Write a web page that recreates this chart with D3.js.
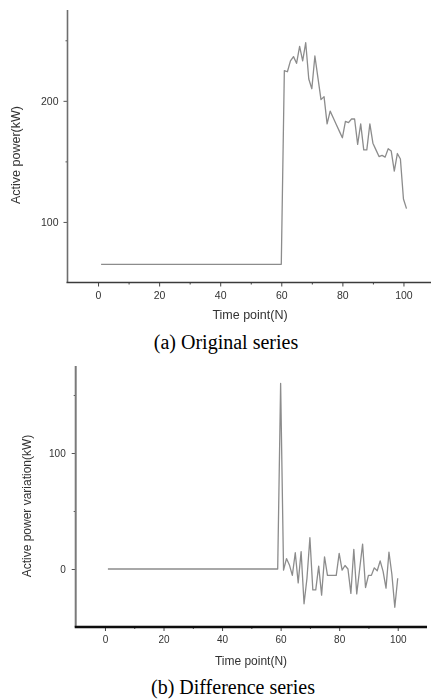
<!DOCTYPE html>
<html>
<head>
<meta charset="utf-8">
<script src="https://cdn.jsdelivr.net/npm/d3@7"></script>
<style>
  html, body { margin: 0; padding: 0; background: #fff; }
  svg { display: block; }
</style>
</head>
<body>
<svg id="fig" width="431" height="699"></svg>
<script>
// Active power of the original series, time points 1..101 (kW)
const originalPower = [
  65, 65, 65, 65, 65, 65, 65, 65, 65, 65,
  65, 65, 65, 65, 65, 65, 65, 65, 65, 65,
  65, 65, 65, 65, 65, 65, 65, 65, 65, 65,
  65, 65, 65, 65, 65, 65, 65, 65, 65, 65,
  65, 65, 65, 65, 65, 65, 65, 65, 65, 65,
  65, 65, 65, 65, 65, 65, 65, 65, 65, 65,
  225, 224, 233, 236.5, 231, 245, 233, 248, 218, 210,
  237, 219, 201, 203.5, 181, 191.5, 186, 180.5, 175, 169.5,
  183, 182, 185, 185, 164, 181, 159.5, 159.5, 181, 165,
  159.5, 154, 155, 153.5, 160.5, 158.5, 142, 156.5, 152, 119,
  111
];

// Active power variation (first difference), time points 1..100 (kW)
const powerVariation = [
  0, 0, 0, 0, 0, 0, 0, 0, 0, 0,
  0, 0, 0, 0, 0, 0, 0, 0, 0, 0,
  0, 0, 0, 0, 0, 0, 0, 0, 0, 0,
  0, 0, 0, 0, 0, 0, 0, 0, 0, 0,
  0, 0, 0, 0, 0, 0, 0, 0, 0, 0,
  0, 0, 0, 0, 0, 0, 0, 0, 0, 160,
  -1, 9, 3.5, -5.5, 14, -12, 15, -30, -8, 27,
  -18, -18, 2.5, -22.5, 10.5, -5.5, -5.5, -5.5, -5.5, 13.5,
  -1, 3, 0, -21, 17, -21.5, 0, 21.5, -16, -5.5,
  -5.5, 1, -1.5, 7, -2, -16.5, 14.5, -4.5, -33, -8
];

const xMajorTicks = [0, 20, 40, 60, 80, 100];
const xMinorTicks = [10, 30, 50, 70, 90];
const topYMajor = [100, 200];
const topYMinor = [150, 250];
const botYMajor = [0, 100];
const botYMinor = [50, 150];

const captions = ["(a) Original series", "(b) Difference series"];
const xTitle = "Time point(N)";
const yTitles = ["Active power(kW)", "Active power variation(kW)"];

const svg = d3.select("#fig");

const defs = svg.append("defs");
defs.append("filter").attr("id", "soft")
  .append("feGaussianBlur").attr("stdDeviation", 0.35);

function drawPanel(cfg) {
  const g = svg.append("g").attr("filter", "url(#soft)");
  const x = d3.scaleLinear().domain([-10, 110]).range(cfg.xRange);
  const y = d3.scaleLinear().domain(cfg.yDomain).range(cfg.yRange);
  const x0 = cfg.xRange[0];
  const yBottom = cfg.yRange[0];

  // data line
  const line = d3.line().x((d, i) => x(i + 1)).y(d => y(d));
  g.append("path")
    .datum(cfg.values)
    .attr("d", line)
    .attr("fill", "none")
    .attr("stroke", "#8c8c8c")
    .attr("stroke-width", 1.3)
    .attr("stroke-linejoin", "round");

  // x axis: major ticks with labels, minor ticks without
  const xAxis = g.append("g").attr("transform", `translate(0,${yBottom})`);
  xAxis.call(d3.axisBottom(x).tickValues(xMajorTicks).tickSize(4).tickPadding(5).tickFormat(d3.format("d")));
  xAxis.append("g").call(d3.axisBottom(x).tickValues(xMinorTicks).tickSize(2).tickFormat(""));
  xAxis.selectAll(".domain").remove();
  xAxis.selectAll("line").attr("stroke", "#444").attr("stroke-width", 1);
  xAxis.selectAll("text")
    .attr("font-family", "Liberation Sans, Arial, sans-serif")
    .attr("font-size", cfg.tickFont)
    .attr("fill", "#333");

  // y axis
  const yAxis = g.append("g").attr("transform", `translate(${x0},0)`);
  yAxis.call(d3.axisLeft(y).tickValues(cfg.yMajor).tickSize(4).tickPadding(cfg.yPad).tickFormat(d3.format("d")));
  yAxis.append("g").call(d3.axisLeft(y).tickValues(cfg.yMinor).tickSize(2).tickFormat(""));
  yAxis.selectAll(".domain").remove();
  yAxis.selectAll("line").attr("stroke", "#555").attr("stroke-width", 1);
  yAxis.selectAll("text")
    .attr("font-family", "Liberation Sans, Arial, sans-serif")
    .attr("font-size", cfg.tickFont)
    .attr("fill", "#333");

  // axis lines
  g.append("line")
    .attr("x1", x0).attr("x2", x0)
    .attr("y1", cfg.yRange[1]).attr("y2", yBottom)
    .attr("stroke", cfg.yAxisColor).attr("stroke-width", cfg.yAxisWidth);
  g.append("line")
    .attr("x1", x0 - 1).attr("x2", cfg.xRange[1])
    .attr("y1", yBottom).attr("y2", yBottom)
    .attr("stroke", cfg.xAxisColor).attr("stroke-width", cfg.xAxisWidth);

  // axis titles
  g.append("text")
    .attr("x", cfg.xTitlePos[0]).attr("y", cfg.xTitlePos[1])
    .attr("text-anchor", "middle")
    .attr("dominant-baseline", "central")
    .attr("font-family", "Liberation Sans, Arial, sans-serif")
    .attr("font-size", cfg.titleFont)
    .attr("fill", "#333")
    .text(xTitle);
  g.append("text")
    .attr("transform", `translate(${cfg.yTitlePos[0]},${cfg.yTitlePos[1]}) rotate(-90)`)
    .attr("text-anchor", "middle")
    .attr("dominant-baseline", "central")
    .attr("font-family", "Liberation Sans, Arial, sans-serif")
    .attr("font-size", cfg.titleFont)
    .attr("fill", "#333")
    .text(cfg.yTitle);

  // caption under the panel
  svg.append("text")
    .attr("x", cfg.captionPos[0]).attr("y", cfg.captionPos[1])
    .attr("text-anchor", "middle")
    .attr("dominant-baseline", "central")
    .attr("font-family", "Liberation Serif, Times New Roman, serif")
    .attr("font-size", 20)
    .attr("fill", "#000")
    .text(cfg.caption);
}

drawPanel({
  values: originalPower,
  xRange: [67.5, 434],
  yDomain: [50, 275],
  yRange: [282.5, 10],
  yMajor: topYMajor,
  yMinor: topYMinor,
  yPad: 5,
  tickFont: 10.5,
  titleFont: 12.5,
  yAxisColor: "#6e6e6e",
  yAxisWidth: 1.6,
  xAxisColor: "#3a3a3a",
  xAxisWidth: 1.6,
  xTitlePos: [250, 315],
  yTitlePos: [16, 155],
  yTitle: yTitles[0],
  caption: captions[0],
  captionPos: [226, 342]
});

drawPanel({
  values: powerVariation,
  xRange: [75.7, 427],
  yDomain: [-50, 175],
  yRange: [627, 366],
  yMajor: botYMajor,
  yMinor: botYMinor,
  yPad: 6,
  tickFont: 10,
  titleFont: 12,
  yAxisColor: "#7a7a7a",
  yAxisWidth: 2,
  xAxisColor: "#111",
  xAxisWidth: 2.5,
  xTitlePos: [251, 661],
  yTitlePos: [27, 506],
  yTitle: yTitles[1],
  caption: captions[1],
  captionPos: [233, 687]
});
</script>
</body>
</html>
